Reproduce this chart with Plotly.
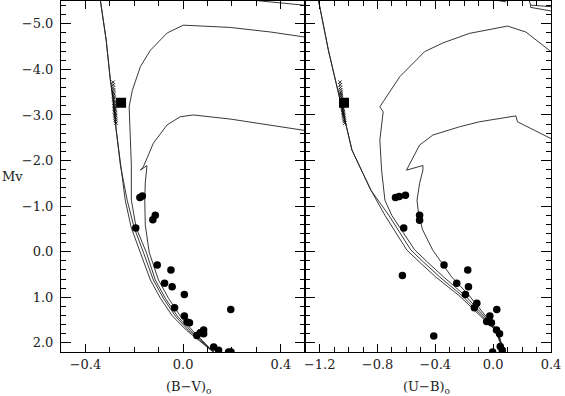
import plotly.graph_objects as go

# ---- (B-V)o panel: isochrones ----
bv_iso1 = [-0.339, -0.315, -0.298, -0.286, -0.274, -0.257, -0.237, -0.212, -0.175, -0.134, -0.093, -0.044, 0.013, 0.070, 0.128]
mv_iso1 = [-5.52, -4.64, -3.77, -3.33, -2.67, -1.90, -1.13, -0.52, 0.01, 0.62, 1.02, 1.41, 1.72, 1.96, 2.22]
bv_iso1_top = [0.28, 0.51]
mv_iso1_top = [-5.52, -5.40]
bv_iso2 = [-0.339, -0.315, -0.298, -0.286, -0.274, -0.257, -0.229, -0.200, -0.163, -0.122, -0.081, -0.032, 0.021, 0.074, 0.128]
mv_iso2 = mv_iso1
bv_iso3 = [0.51, 0.358, 0.193, 0.070, 0.001, -0.065, -0.134, -0.175, -0.208, -0.221, -0.217, -0.212, -0.212,
           -0.192, -0.151, -0.114, -0.073, -0.024, 0.029, 0.078, 0.128]
mv_iso3 = [-4.70, -4.82, -4.92, -4.95, -4.97, -4.80, -4.42, -4.06, -3.54, -3.18, -2.60, -1.90, -1.13,
           -0.52, 0.01, 0.62, 1.02, 1.41, 1.72, 1.96, 2.22]
bv_iso4 = [0.51, 0.358, 0.193, 0.042, -0.012, -0.066, -0.122, -0.163, -0.175, -0.148, -0.155, -0.157,
           -0.155, -0.139, -0.101, -0.060, -0.012, 0.037, 0.082, 0.128]
mv_iso4 = [-2.65, -2.78, -2.91, -3.00, -2.96, -2.78, -2.38, -1.86, -1.79, -1.89, -1.51, -1.13,
           -0.59, 0.01, 0.62, 1.02, 1.41, 1.72, 1.96, 2.22]

# ---- (U-B)o panel: isochrones ----
ub_iso1 = [-1.209, -1.176, -1.140, -1.100, -1.059, -1.013, -0.977, -0.922, -0.846, -0.749, -0.674, -0.598,
           -0.509, -0.399, -0.233, -0.109, 0.014, 0.076]
mv_iso1r = [-5.52, -4.97, -4.42, -3.88, -3.33, -2.67, -2.23, -1.86, -1.35, -0.80, -0.43, -0.04,
            0.23, 0.55, 0.97, 1.34, 1.72, 2.22]
ub_iso2 = [-1.209, -1.176, -1.140, -1.100, -1.059, -1.013, -0.977, -0.922, -0.846, -0.722, -0.646, -0.570,
           -0.481, -0.371, -0.213, -0.096, 0.021, 0.076]
mv_iso2r = mv_iso1r
ub_iso3 = [0.42, 0.226, 0.099, -0.164, -0.348, -0.474, -0.646, -0.749, -0.784, -0.761, -0.784, -0.772,
           -0.749, -0.702, -0.626, -0.543, -0.454, -0.344, -0.192, -0.082, 0.028, 0.076]
mv_iso3r = [-4.34, -4.82, -4.95, -4.79, -4.58, -4.39, -3.84, -3.36, -3.18, -3.07, -2.45, -1.79,
            -1.13, -0.80, -0.43, -0.04, 0.23, 0.55, 0.97, 1.34, 1.72, 2.22]
ub_iso4 = [0.42, 0.168, 0.157, -0.096, -0.233, -0.417, -0.509, -0.600, -0.486, -0.486, -0.509, -0.527,
           -0.515, -0.488, -0.419, -0.357, -0.288, -0.164, -0.068, 0.028, 0.076]
mv_iso4r = [-2.45, -2.85, -2.98, -2.85, -2.74, -2.56, -2.34, -1.79, -1.89, -1.79, -1.50, -1.13,
            -0.80, -0.48, -0.04, 0.23, 0.55, 0.97, 1.34, 1.72, 2.22]
ub_top1 = [0.0, 0.09]
mv_top1 = [-5.53, -5.48]
ub_top2 = [0.245, 0.259, 0.42]
mv_top2 = [-5.55, -5.41, -5.37]
ub_top3 = [0.259, 0.259, 0.42]
mv_top3 = [-5.41, -5.36, -5.27]

# ---- cluster stars ----
bv_star = [-0.177, -0.167, -0.114, -0.124, -0.194, -0.106, -0.050, -0.076, -0.045, 0.005, -0.035, 0.005,
           0.016, 0.026, 0.195, 0.056, 0.070, 0.084, 0.084, 0.125, 0.145, 0.186, 0.196]
mv_star = [-1.19, -1.22, -0.80, -0.70, -0.52, 0.29, 0.40, 0.69, 0.77, 0.94, 1.23, 1.41,
           1.54, 1.56, 1.27, 1.84, 1.78, 1.72, 1.80, 2.09, 2.16, 2.20, 2.20]
ub_star = [-0.676, -0.650, -0.607, -0.509, -0.509, -0.619, -0.628, -0.340, -0.176, -0.252, -0.171, -0.192,
           -0.113, -0.130, 0.025, -0.023, -0.045, -0.012, 0.023, 0.044, -0.411, 0.049, 0.063, -0.004]
mv_star_ub = [-1.19, -1.21, -1.24, -0.80, -0.69, -0.52, 0.52, 0.29, 0.40, 0.69, 0.77, 0.94,
              1.13, 1.23, 1.27, 1.41, 1.53, 1.56, 1.72, 1.80, 1.85, 2.08, 2.16, 2.20]

# ---- crosses and the filled square ----
mv_cross = [-3.72, -3.66, -3.60, -3.55, -3.50, -3.46, -3.42, -3.38, -3.34, -3.30, -3.26, -3.22,
            -3.19, -3.16, -3.13, -3.10, -3.07, -3.04, -3.01, -2.98, -2.94, -2.90, -2.86, -2.82]
bv_cross = [-0.287, -0.286, -0.287, -0.285, -0.286, -0.284, -0.285, -0.283, -0.284, -0.282, -0.283, -0.281,
            -0.282, -0.280, -0.281, -0.279, -0.280, -0.278, -0.279, -0.277, -0.278, -0.276, -0.277, -0.275]
ub_cross = [-1.060, -1.058, -1.057, -1.056, -1.054, -1.053, -1.052, -1.050, -1.049, -1.048, -1.046, -1.045,
            -1.044, -1.042, -1.041, -1.040, -1.038, -1.037, -1.036, -1.034, -1.033, -1.031, -1.029, -1.026]
bv_square = [-0.254]
ub_square = [-1.032]
mv_square = [-3.27]

LINE = dict(color="#222", width=0.9)
fig = go.Figure()

left_lines = [(bv_iso1, mv_iso1), (bv_iso1_top, mv_iso1_top), (bv_iso2, mv_iso2),
              (bv_iso3, mv_iso3), (bv_iso4, mv_iso4)]
for xs, ys in left_lines:
    fig.add_trace(go.Scatter(x=xs, y=ys, mode="lines", line=LINE, xaxis="x", yaxis="y"))

right_lines = [(ub_iso1, mv_iso1r), (ub_iso2, mv_iso2r), (ub_iso3, mv_iso3r), (ub_iso4, mv_iso4r),
               (ub_top1, mv_top1), (ub_top2, mv_top2), (ub_top3, mv_top3)]
for xs, ys in right_lines:
    fig.add_trace(go.Scatter(x=xs, y=ys, mode="lines", line=LINE, xaxis="x2", yaxis="y2"))

cross = dict(symbol="x-thin", size=3.5, color="black", line=dict(color="black", width=0.8))
dot = dict(symbol="circle", size=7.5, color="black")
square = dict(symbol="square", size=10, color="black")

fig.add_trace(go.Scatter(x=bv_cross, y=mv_cross, mode="markers", marker=cross, xaxis="x", yaxis="y"))
fig.add_trace(go.Scatter(x=bv_square, y=mv_square, mode="markers", marker=square, xaxis="x", yaxis="y"))
fig.add_trace(go.Scatter(x=bv_star, y=mv_star, mode="markers", marker=dot, xaxis="x", yaxis="y"))
fig.add_trace(go.Scatter(x=ub_cross, y=mv_cross, mode="markers", marker=cross, xaxis="x2", yaxis="y2"))
fig.add_trace(go.Scatter(x=ub_square, y=mv_square, mode="markers", marker=square, xaxis="x2", yaxis="y2"))
fig.add_trace(go.Scatter(x=ub_star, y=mv_star_ub, mode="markers", marker=dot, xaxis="x2", yaxis="y2"))

FONT = dict(family="DejaVu Serif", size=13, color="#222")
axis_common = dict(showline=True, linecolor="black", linewidth=1, mirror="ticks", ticks="inside",
                   tickcolor="black", showgrid=False, zeroline=False, tickformat=".1f",
                   tickfont=FONT)

split = 0.4985
fig.update_layout(
    width=565, height=396,
    margin=dict(l=61, r=14, t=1, b=44),
    paper_bgcolor="white", plot_bgcolor="white",
    showlegend=False,
    xaxis=dict(domain=[0, split], range=[-0.5, 0.5], tick0=0, dtick=0.4, ticklen=8, anchor="y",
               minor=dict(dtick=0.1, ticklen=5, ticks="inside", tickcolor="black", showgrid=False),
               **axis_common),
    xaxis2=dict(domain=[split, 1], range=[-1.3, 0.4], tick0=0, dtick=0.4, ticklen=8, anchor="y2",
                minor=dict(dtick=0.1, ticklen=5, ticks="inside", tickcolor="black", showgrid=False),
                **axis_common),
    yaxis=dict(range=[2.2, -5.5], tick0=0, dtick=1, ticklen=10, anchor="x", ticklabelstandoff=4,
               minor=dict(dtick=0.2, ticklen=5, ticks="inside", tickcolor="black", showgrid=False),
               **axis_common),
    yaxis2=dict(range=[2.2, -5.5], tick0=0, dtick=1, ticklen=10, anchor="x2", showticklabels=False,
                minor=dict(dtick=0.2, ticklen=5, ticks="inside", tickcolor="black", showgrid=False),
                **axis_common),
)

TITLE_FONT = dict(family="DejaVu Serif", size=13, color="#222")
fig.add_annotation(text="Mv", xref="paper", yref="paper", x=-0.1245, y=0.501,
                   xanchor="left", yanchor="middle", showarrow=False, font=TITLE_FONT)
fig.add_annotation(text="(B\u2212V)<sub>o</sub>", xref="paper", yref="paper", x=0.261, y=-0.1,
                   xanchor="center", yanchor="middle", showarrow=False, font=TITLE_FONT)
fig.add_annotation(text="(U\u2212B)<sub>o</sub>", xref="paper", yref="paper", x=0.747, y=-0.1,
                   xanchor="center", yanchor="middle", showarrow=False, font=TITLE_FONT)

fig.write_html("out.html", config={"displayModeBar": False},
               post_script="document.body.style.margin='0';")
